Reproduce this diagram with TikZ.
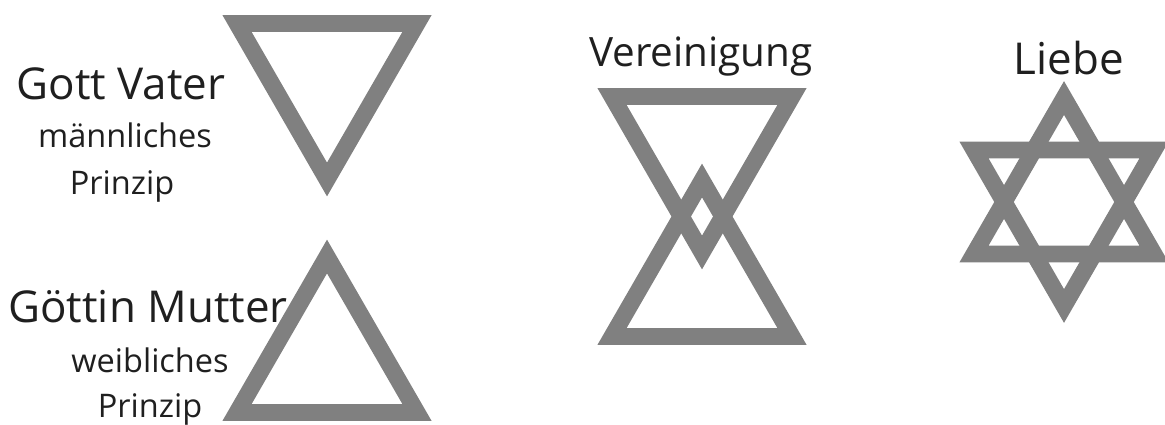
\documentclass[tikz,border=0pt]{standalone}
\usepackage{fontspec}
\setmainfont{Open Sans}
\usepackage{xcolor}
\usetikzlibrary{positioning}
\definecolor{symgray}{RGB}{128,128,128}
\tikzset{
  tri/.style={draw=symgray, line width=9.6pt, line join=miter},
  bigtxt/.style={font=\fontsize{25}{30}\selectfont, text=black!88, inner sep=0pt, anchor=base},
  smalltxt/.style={font=\fontsize{18.5}{22}\selectfont, text=black!88, inner sep=0pt, anchor=base},
  pixels/.style={x=0.02cm, y=-0.02cm}
}

\begin{document}
\begin{tikzpicture}[pixels]
  \useasboundingbox (0,0) rectangle (1165,425);

  % Father triangle (pointing down)
  \draw[tri] (237,23.5) -- (417,23.5) -- (327,179.5) -- cycle;

  % Mother triangle (pointing up)
  \draw[tri] (237,412.5) -- (417,412.5) -- (327,256.5) -- cycle;

  % Union: both triangles overlapping
  \draw[tri] (612,96.5) -- (792,96.5) -- (702,252.5) -- cycle;
  \draw[tri] (612,336.5) -- (792,336.5) -- (702,180.5) -- cycle;

  % Love: hexagram
  \draw[tri] (974,254) -- (1154,254) -- (1064,98) -- cycle;
  \draw[tri] (974,150) -- (1154,150) -- (1064,306) -- cycle;

  % Labels on the left
  \node[bigtxt] (vater) at (121,100) {Gott Vater};
  \node[smalltxt] (vatersub) at (125,148) {männliches};
  \node[smalltxt] (vaterprz) at (122,195) {Prinzip};

  \node[bigtxt] (mutter) at (148,322) {Göttin Mutter};
  \node[smalltxt] (muttersub) at (150,372) {weibliches};
  \node[smalltxt] (mutterprz) at (150,417) {Prinzip};

  % Titles above the symbols
  \node[bigtxt, font=\fontsize{23}{28}\selectfont] (union) at (701,67) {Vereinigung};
  \node[bigtxt] (love) at (1069,75) {Liebe};
\end{tikzpicture}
\end{document}
